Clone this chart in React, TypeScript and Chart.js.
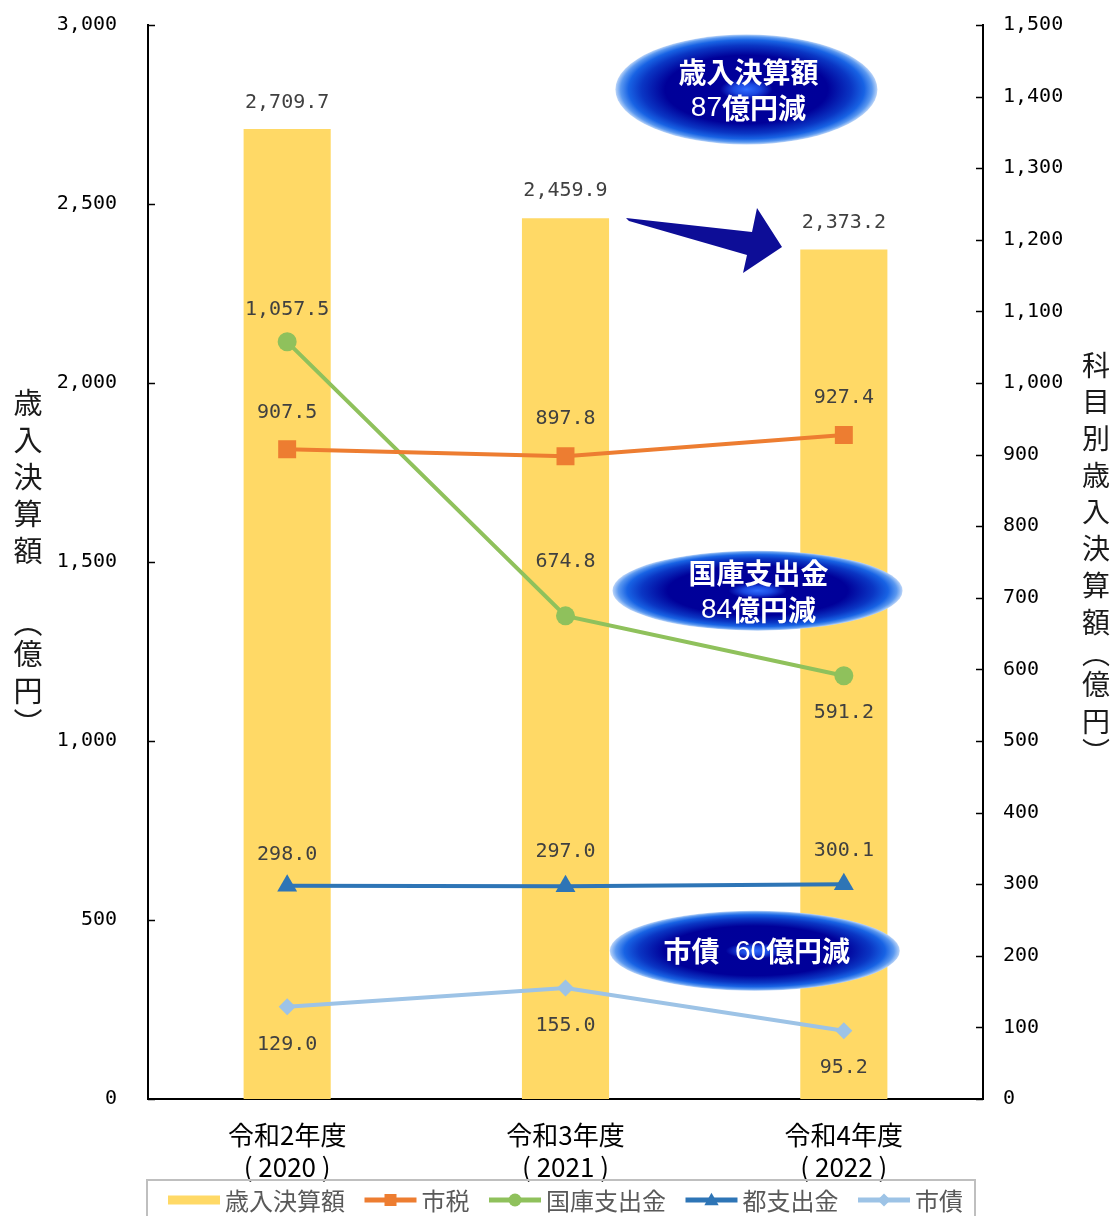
import React, { useEffect, useRef } from 'react';
import { Chart, registerables } from 'chart.js';

Chart.register(...registerables);

// ---- data ----
const categories = [
  ['令和2年度', '( 2020 )'],
  ['令和3年度', '( 2021 )'],
  ['令和4年度', '( 2022 )'],
];
const seriesNames = ['歳入決算額', '市税', '国庫支出金', '都支出金', '市債'];
const revenueTotal = [2709.7, 2459.9, 2373.2];
const cityTax = [907.5, 897.8, 927.4];
const nationalSubsidy = [1057.5, 674.8, 591.2];
const metroSubsidy = [298.0, 297.0, 300.1];
const cityBonds = [129.0, 155.0, 95.2];
const leftAxisMax = 3000;
const leftAxisStep = 500;
const rightAxisMax = 1500;
const rightAxisStep = 100;
const leftAxisTitle = '歳入決算額 （億円）';
const rightAxisTitle = '科目別歳入決算額（億円）';
const callout1 = ['歳入決算額', '87億円減'];
const callout2 = ['国庫支出金', '84億円減'];
const callout3 = ['市債  60億円減'];

// ---- styles ----
const colors = {
  bar: '#FFD966',
  tax: '#ED7D31',
  national: '#8FC15C',
  metro: '#2E75B6',
  bonds: '#9DC3E6',
};
const labelOffsets = [
  [-26, -28, -27],
  [-36, -37, -37],
  [-32, -54, 37],
  [-31, -35, -33],
  [38, 38, 37],
];
const CJK = '"Noto Sans CJK JP", "Noto Sans", sans-serif';
const MONO = '"DejaVu Sans Mono", "Liberation Mono", monospace';

const fmt1 = (v: number) =>
  v.toLocaleString('en-US', { minimumFractionDigits: 1, maximumFractionDigits: 1 });

function drawMarker(ctx: CanvasRenderingContext2D, kind: string, x: number, y: number, r: number, color: string) {
  ctx.save();
  ctx.fillStyle = color;
  ctx.beginPath();
  if (kind === 'rect') {
    ctx.rect(x - r, y - r, 2 * r, 2 * r);
  } else if (kind === 'circle') {
    ctx.arc(x, y, r, 0, Math.PI * 2);
  } else if (kind === 'triangle') {
    ctx.moveTo(x, y - r * 1.1);
    ctx.lineTo(x + r * 1.1, y + r * 0.8);
    ctx.lineTo(x - r * 1.1, y + r * 0.8);
    ctx.closePath();
  } else if (kind === 'diamond') {
    ctx.moveTo(x, y - r);
    ctx.lineTo(x + r, y);
    ctx.lineTo(x, y + r);
    ctx.lineTo(x - r, y);
    ctx.closePath();
  }
  ctx.fill();
  ctx.restore();
}

function drawEllipse(ctx: CanvasRenderingContext2D, cx: number, cy: number, rx: number, ry: number) {
  ctx.save();
  ctx.translate(cx, cy);
  ctx.scale(rx, ry);
  const g = ctx.createRadialGradient(0, 0, 0, 0, 0, 1);
  g.addColorStop(0, '#2f6cff');
  g.addColorStop(0.1, '#1a48e0');
  g.addColorStop(0.2, '#00009a');
  g.addColorStop(0.62, '#000099');
  g.addColorStop(0.8, '#0a36c4');
  g.addColorStop(0.9, '#1863e4');
  g.addColorStop(0.96, '#5a98f0');
  g.addColorStop(1, '#bcd5f8');
  ctx.fillStyle = g;
  ctx.beginPath();
  ctx.arc(0, 0, 1, 0, Math.PI * 2);
  ctx.fill();
  ctx.restore();
}

function drawMixedLine(ctx: CanvasRenderingContext2D, text: string, cx: number, cy: number, size: number) {
  const runs: { t: string; bold: boolean }[] = [];
  for (const ch of text) {
    const bold = !/[0-9 ]/.test(ch);
    const last = runs[runs.length - 1];
    if (last && last.bold === bold) last.t += ch;
    else runs.push({ t: ch, bold });
  }
  const fontOf = (b: boolean) => (b ? `bold ${size}px ${CJK}` : `${size}px "Liberation Sans", Arial, sans-serif`);
  let total = 0;
  for (const r of runs) {
    ctx.font = fontOf(r.bold);
    total += ctx.measureText(r.t).width;
  }
  let x = cx - total / 2;
  ctx.textAlign = 'left';
  ctx.textBaseline = 'middle';
  ctx.fillStyle = '#ffffff';
  for (const r of runs) {
    ctx.font = fontOf(r.bold);
    ctx.fillText(r.t, x, cy + 1);
    x += ctx.measureText(r.t).width;
  }
}

function drawVerticalText(ctx: CanvasRenderingContext2D, text: string, x: number, yStart: number, step: number, size: number) {
  ctx.save();
  ctx.font = `${size}px ${CJK}`;
  ctx.fillStyle = '#1a1a1a';
  ctx.textAlign = 'center';
  ctx.textBaseline = 'middle';
  const adv = (c: string) => (c === ' ' ? 40 : c === '（' || c === '）' ? 26 : step);
  const chars = Array.from(text);
  let y = yStart;
  chars.forEach((c, i) => {
    if (i > 0) y += (adv(chars[i - 1]) + adv(c)) / 2;
    if (c === ' ') return;
    const g = c === '（' ? '︵' : c === '）' ? '︶' : c;
    ctx.fillText(g, x, y);
  });
  ctx.restore();
}

const decorPlugin = {
  id: 'decor',
  afterDatasetsDraw(chart: any) {
    const ctx: CanvasRenderingContext2D = chart.ctx;
    // value labels
    ctx.save();
    ctx.font = `20px ${MONO}`;
    ctx.fillStyle = '#404040';
    ctx.textAlign = 'center';
    ctx.textBaseline = 'middle';
    chart.data.datasets.forEach((ds: any, di: number) => {
      const meta = chart.getDatasetMeta(di);
      meta.data.forEach((el: any, i: number) => {
        const v = ds.data[i] as number;
        ctx.fillText(fmt1(v), el.x, el.y + labelOffsets[di][i]);
      });
    });
    ctx.restore();

    const xs = chart.scales.x;
    const yr = chart.scales.y1;
    const px = (f: number) => {
      const a = xs.getPixelForValue(Math.floor(f));
      const b = xs.getPixelForValue(Math.min(Math.floor(f) + 1, 2));
      return a + (b - a) * (f - Math.floor(f));
    };

    // arrow
    ctx.save();
    ctx.fillStyle = '#0d0d97';
    ctx.beginPath();
    ctx.moveTo(626, 218);
    ctx.lineTo(752, 232);
    ctx.lineTo(757, 208);
    ctx.lineTo(782, 247);
    ctx.lineTo(743, 273);
    ctx.lineTo(747, 255);
    ctx.lineTo(629, 221);
    ctx.closePath();
    ctx.fill();
    ctx.restore();

    // callouts
    const c1x = px(1.65), c1y = yr.getPixelForValue(1410);
    drawEllipse(ctx, c1x, c1y, 131, 55);
    drawMixedLine(ctx, callout1[0], c1x + 2, c1y - 18, 28);
    drawMixedLine(ctx, callout1[1], c1x + 2, c1y + 18, 28);

    const c2x = px(1.69), c2y = yr.getPixelForValue(710);
    drawEllipse(ctx, c2x, c2y, 145, 40);
    drawMixedLine(ctx, callout2[0], c2x + 1, c2y - 18, 28);
    drawMixedLine(ctx, callout2[1], c2x + 1, c2y + 19, 28);

    const c3x = px(1.68), c3y = yr.getPixelForValue(207);
    drawEllipse(ctx, c3x, c3y, 145, 40);
    drawMixedLine(ctx, callout3[0], c3x + 2, c3y, 28);
  },
  afterDraw(chart: any) {
    const ctx: CanvasRenderingContext2D = chart.ctx;
    const area = chart.chartArea;
    // inner tick marks
    ctx.save();
    ctx.strokeStyle = '#000';
    ctx.lineWidth = 1.5;
    for (const t of chart.scales.y.ticks) {
      const y = Math.round(chart.scales.y.getPixelForValue(t.value)) + 0.5;
      ctx.beginPath();
      ctx.moveTo(area.left, y);
      ctx.lineTo(area.left + 7, y);
      ctx.stroke();
    }
    for (const t of chart.scales.y1.ticks) {
      const y = Math.round(chart.scales.y1.getPixelForValue(t.value)) + 0.5;
      ctx.beginPath();
      ctx.moveTo(area.right - 7, y);
      ctx.lineTo(area.right, y);
      ctx.stroke();
    }
    ctx.restore();

    // axis titles
    drawVerticalText(ctx, leftAxisTitle, 28, 403, 37, 29);
    drawVerticalText(ctx, rightAxisTitle, 1096, 365, 36.7, 28);

    // legend
    ctx.save();
    const boxL = area.left - 1, boxR = 975, boxT = 1180;
    ctx.strokeStyle = '#BFBFBF';
    ctx.lineWidth = 2;
    ctx.strokeRect(boxL, boxT, boxR - boxL, 60);
    const items = [
      { label: seriesNames[0], color: colors.bar, marker: '' },
      { label: seriesNames[1], color: colors.tax, marker: 'rect' },
      { label: seriesNames[2], color: colors.national, marker: 'circle' },
      { label: seriesNames[3], color: colors.metro, marker: 'triangle' },
      { label: seriesNames[4], color: colors.bonds, marker: 'diamond' },
    ];
    ctx.font = `24px ${CJK}`;
    const sw = 52, gap = 5, spacing = 19.5;
    let x = boxL + 21;
    const ly = 1200;
    items.forEach((it) => {
      ctx.strokeStyle = it.color;
      ctx.lineWidth = it.marker ? 5 : 9;
      ctx.beginPath();
      ctx.moveTo(x, ly);
      ctx.lineTo(x + sw, ly);
      ctx.stroke();
      if (it.marker) drawMarker(ctx, it.marker, x + sw / 2, ly, it.marker === 'rect' ? 6 : 6.5, it.color);
      x += sw + gap;
      ctx.fillStyle = '#595959';
      ctx.textAlign = 'left';
      ctx.textBaseline = 'middle';
      ctx.fillText(it.label, x, ly + 1);
      x += ctx.measureText(it.label).width + spacing;
    });
    ctx.restore();
  },
};

const noPad = (s: any) => {
  s.paddingTop = 0;
  s.paddingBottom = 0;
  s.paddingLeft = 0;
  s.paddingRight = 0;
};

export default function App() {
  const ref = useRef<HTMLCanvasElement>(null);
  useEffect(() => {
    document.body.style.margin = '0';
    const canvas = ref.current!;
    const lineDs = (label: string, data: number[], color: string, pointStyle: string, radius: number) => ({
      type: 'line' as const,
      label,
      data,
      yAxisID: 'y1',
      borderColor: color,
      backgroundColor: color,
      borderWidth: 4,
      pointStyle,
      pointRadius: radius,
      pointBorderWidth: 0,
      pointBackgroundColor: color,
      tension: 0,
      order: 1,
    });
    const chart = new Chart(canvas, {
      data: {
        labels: categories,
        datasets: [
          {
            type: 'bar',
            label: seriesNames[0],
            data: revenueTotal,
            yAxisID: 'y',
            backgroundColor: colors.bar,
            borderWidth: 0,
            barPercentage: 0.313,
            categoryPercentage: 1,
            order: 5,
          },
          lineDs(seriesNames[1], cityTax, colors.tax, 'rect', 12.7),
          lineDs(seriesNames[2], nationalSubsidy, colors.national, 'circle', 9.5),
          lineDs(seriesNames[3], metroSubsidy, colors.metro, 'triangle', 11.5),
          lineDs(seriesNames[4], cityBonds, colors.bonds, 'rectRot', 8.5),
        ] as any,
      },
      options: {
        responsive: false,
        animation: false,
        layout: { autoPadding: false, padding: { top: 25, left: 0, right: 0, bottom: 0 } },
        plugins: {
          legend: { display: false },
          tooltip: { enabled: false },
        },
        scales: {
          x: {
            grid: { display: false, drawTicks: false },
            border: { display: true, color: '#000', width: 2 },
            ticks: {
              color: '#000',
              font: { family: CJK, size: 26, lineHeight: 1.23 },
              padding: 20,
              maxRotation: 0,
            },
            afterFit: (s: any) => {
              s.height = 117;
              noPad(s);
            },
          },
          y: {
            position: 'left',
            min: 0,
            max: leftAxisMax,
            grid: { display: false, drawTicks: false },
            border: { display: true, color: '#000', width: 2 },
            ticks: {
              stepSize: leftAxisStep,
              color: '#000',
              font: { family: MONO, size: 20 },
              padding: 31,
              callback: (v: any) => Number(v).toLocaleString('en-US'),
            },
            afterFit: (s: any) => {
              s.width = 148;
              noPad(s);
            },
          },
          y1: {
            position: 'right',
            min: 0,
            max: rightAxisMax,
            grid: { display: false, drawTicks: false },
            border: { display: true, color: '#000', width: 2 },
            ticks: {
              stepSize: rightAxisStep,
              color: '#000',
              font: { family: MONO, size: 20 },
              padding: 20,
              callback: (v: any) => Number(v).toLocaleString('en-US'),
            },
            afterFit: (s: any) => {
              s.width = 132;
              noPad(s);
            },
          },
        },
      },
      plugins: [decorPlugin],
    });
    return () => chart.destroy();
  }, []);
  return <canvas ref={ref} width={1115} height={1216} style={{ display: 'block' }} />;
}
